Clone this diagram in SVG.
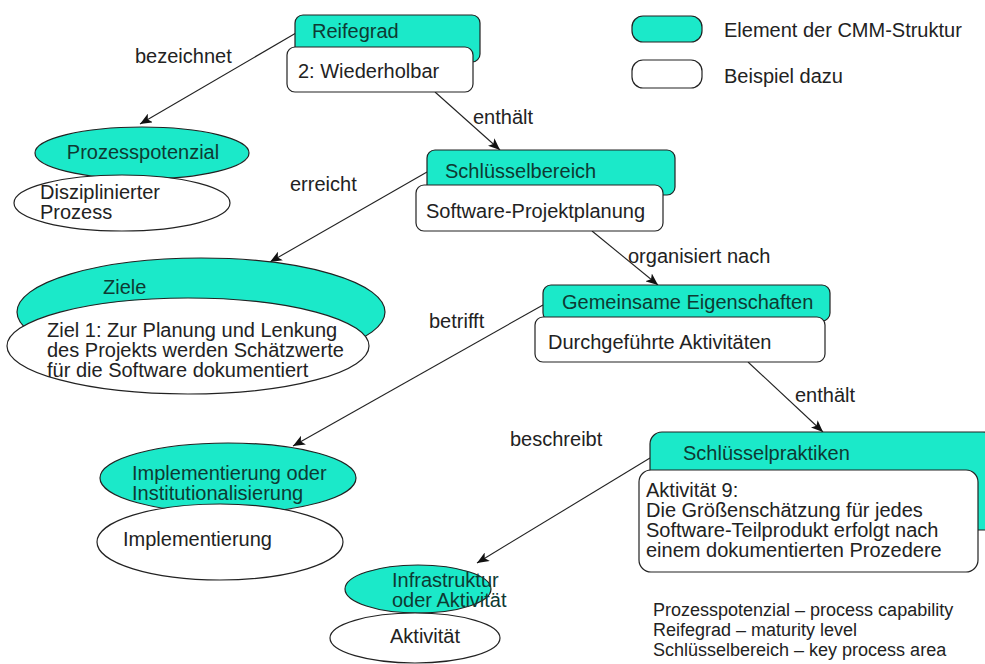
<svg xmlns="http://www.w3.org/2000/svg" width="985" height="664" viewBox="0 0 985 664">
<style>
text{font-family:"Liberation Sans",Arial,sans-serif;font-size:20px;fill:#222}
.tl{fill:#0e3a33}
.teal{fill:#1be9c9;stroke:#222;stroke-width:1.2}
.white{fill:#fff;stroke:#222;stroke-width:1.2}
.edge{fill:none;stroke:#222;stroke-width:1.1;marker-end:url(#arr)}
.note{font-size:18px}
</style>
<defs>
<marker id="arr" markerUnits="userSpaceOnUse" markerWidth="12" markerHeight="10" refX="12" refY="5" orient="auto">
<path d="M0,0 L12,5 L0,10 L3,5 z" fill="#111"/>
</marker>
</defs>
<rect width="985" height="664" fill="#fff"/>

<g id="legend">
<rect class="teal" x="632" y="16" width="70" height="26" rx="11"/>
<rect class="white" x="632" y="60" width="70" height="28" rx="11"/>
<text x="724" y="37">Element der CMM-Struktur</text>
<text x="724" y="83">Beispiel dazu</text>
</g>

<g id="connectors">
<line class="edge" x1="296" y1="33" x2="140" y2="124"/>
<line class="edge" x1="435" y1="92" x2="500" y2="150"/>
<line class="edge" x1="427" y1="172" x2="270" y2="262"/>
<line class="edge" x1="592" y1="231" x2="658" y2="285"/>
<line class="edge" x1="543" y1="305" x2="293" y2="446"/>
<line class="edge" x1="748" y1="362" x2="823" y2="432"/>
<line class="edge" x1="650" y1="458" x2="477" y2="563"/>
</g>

<g id="labels">
<text x="135" y="63">bezeichnet</text>
<text x="473" y="124">enthält</text>
<text x="290" y="191">erreicht</text>
<text x="628" y="263">organisiert nach</text>
<text x="429" y="328">betrifft</text>
<text x="795" y="402">enthält</text>
<text x="510" y="446">beschreibt</text>
</g>

<g id="reifegrad">
<rect class="teal" x="295" y="15" width="185" height="47" rx="8"/>
<rect class="white" x="287" y="47" width="186" height="45" rx="8"/>
<text class="tl" x="312" y="38">Reifegrad</text>
<text x="298" y="78">2: Wiederholbar</text>
</g>

<g id="prozesspotenzial">
<ellipse class="teal" cx="142" cy="153" rx="107" ry="26"/>
<ellipse class="white" cx="122" cy="203" rx="108" ry="28"/>
<text class="tl" x="143" y="159" text-anchor="middle">Prozesspotenzial</text>
<text x="40" y="199">Disziplinierter</text>
<text x="40" y="219">Prozess</text>
</g>

<g id="schluesselbereich">
<rect class="teal" x="427" y="150" width="248" height="45" rx="8"/>
<rect class="white" x="416" y="185" width="247" height="46" rx="8"/>
<text class="tl" x="445" y="178">Schlüsselbereich</text>
<text x="426" y="218">Software-Projektplanung</text>
</g>

<g id="ziele">
<ellipse class="teal" cx="201" cy="312" rx="184" ry="54"/>
<ellipse class="white" cx="188" cy="346" rx="181" ry="48"/>
<text class="tl" x="103" y="294">Ziele</text>
<text x="47" y="337">Ziel 1: Zur Planung und Lenkung</text>
<text x="47" y="357">des Projekts werden Schätzwerte</text>
<text x="47" y="377">für die Software dokumentiert</text>
</g>

<g id="gemeinsame">
<rect class="teal" x="543" y="285" width="287" height="36" rx="8"/>
<rect class="white" x="535" y="317" width="290" height="45" rx="8"/>
<text class="tl" x="562" y="309">Gemeinsame Eigenschaften</text>
<text x="548" y="349">Durchgeführte Aktivitäten</text>
</g>

<g id="schluesselpraktiken">
<rect class="teal" x="650" y="432" width="345" height="98" rx="12"/>
<rect class="white" x="639" y="470" width="339" height="102" rx="12"/>
<text class="tl" x="683" y="460">Schlüsselpraktiken</text>
<text x="646" y="497">Aktivität 9:</text>
<text x="646" y="517">Die Größenschätzung für jedes</text>
<text x="646" y="537">Software-Teilprodukt erfolgt nach</text>
<text x="646" y="557">einem dokumentierten Prozedere</text>
</g>

<g id="implementierung">
<ellipse class="teal" cx="228" cy="478" rx="128" ry="35"/>
<ellipse class="white" cx="220" cy="542" rx="123" ry="38"/>
<text class="tl" x="132" y="480">Implementierung oder</text>
<text class="tl" x="132" y="500">Institutionalisierung</text>
<text x="123" y="546">Implementierung</text>
</g>

<g id="infrastruktur">
<ellipse class="teal" cx="418" cy="589" rx="73" ry="24"/>
<ellipse class="white" cx="415" cy="638" rx="85" ry="25"/>
<text class="tl" x="392" y="587">Infrastruktur</text>
<text class="tl" x="392" y="607">oder Aktivität</text>
<text x="390" y="643">Aktivität</text>
</g>

<g id="notes">
<text class="note" x="653" y="616">Prozesspotenzial – process capability</text>
<text class="note" x="653" y="636">Reifegrad – maturity level</text>
<text class="note" x="653" y="656">Schlüsselbereich – key process area</text>
</g>
</svg>
